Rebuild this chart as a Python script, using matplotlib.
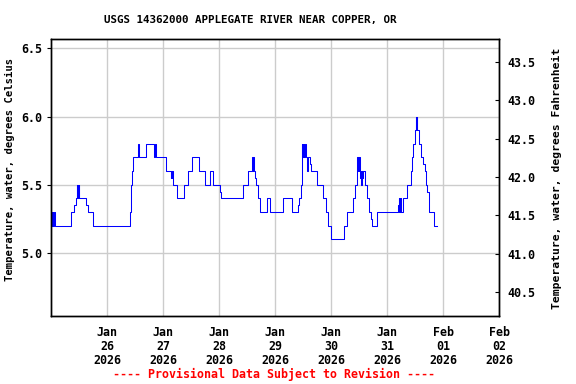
import numpy as np
import pandas as pd
import matplotlib
matplotlib.use('Agg')
import matplotlib.pyplot as plt
import matplotlib.dates as mdates

# heures depuis le 25 janv. 2026 00:00 et temperature (deg C), en escalier
hours = [0.0, 0.3, 0.5, 0.7, 0.9, 1.1, 1.9, 8.4, 10.0, 10.6, 11.1, 11.3, 11.5, 11.7, 11.9, 12.1,
         15.1, 15.7, 18.1, 34.0, 34.4, 34.7, 35.3, 37.3, 37.5, 40.9, 44.3, 44.45, 44.6, 44.75, 44.9,
         49.4, 51.4, 51.6, 51.8, 52.0, 52.3, 54.1, 57.1, 58.9, 60.3, 63.6, 66.1, 68.3, 69.5,
         72.6, 72.8, 82.4, 84.6, 86.3, 86.5, 86.7, 86.9, 87.3, 87.7, 88.6, 89.7, 92.7, 93.9,
         99.6, 103.4, 106.0, 106.4, 107.0, 107.4, 107.5, 107.7, 107.9, 108.1, 108.3, 108.5, 108.7,
         108.9, 109.1, 109.9, 110.1, 111.0, 111.6, 114.1, 116.7, 117.9, 118.9, 120.1, 125.6,
         127.0, 129.6, 130.4, 131.0, 131.3, 131.5, 131.7, 131.9, 132.1, 132.4, 132.6, 132.8,
         133.0, 133.2, 133.4, 133.6, 134.4, 135.5, 136.4, 137.3, 137.7, 139.9, 148.9, 149.1,
         149.3, 149.5, 149.7, 149.9, 150.1, 151.0, 152.7, 154.1, 154.7, 155.3, 155.9, 156.2,
         156.3, 156.4, 156.5, 156.6, 156.7, 156.8, 156.9, 157.0, 157.6, 158.4, 159.6, 160.1,
         160.7, 161.3, 161.9, 162.1, 164.1, 165.6]
temp_c = [5.2, 5.3, 5.2, 5.3, 5.2, 5.3, 5.2, 5.3, 5.35, 5.4, 5.5, 5.4, 5.5, 5.4, 5.5, 5.4,
          5.35, 5.3, 5.2, 5.3, 5.5, 5.6, 5.7, 5.8, 5.7, 5.8, 5.7, 5.8, 5.7, 5.8, 5.7,
          5.6, 5.55, 5.6, 5.55, 5.6, 5.5, 5.4, 5.5, 5.6, 5.7, 5.6, 5.5, 5.6, 5.5,
          5.45, 5.4, 5.5, 5.6, 5.7, 5.6, 5.7, 5.6, 5.55, 5.5, 5.4, 5.3, 5.4, 5.3,
          5.4, 5.3, 5.35, 5.4, 5.5, 5.7, 5.8, 5.7, 5.8, 5.7, 5.8, 5.7, 5.8,
          5.8, 5.7, 5.6, 5.7, 5.65, 5.6, 5.5, 5.4, 5.3, 5.2, 5.1, 5.2,
          5.3, 5.4, 5.5, 5.6, 5.7, 5.6, 5.7, 5.6, 5.7, 5.6, 5.55, 5.6,
          5.5, 5.6, 5.55, 5.6, 5.5, 5.4, 5.3, 5.25, 5.2, 5.3, 5.35, 5.4,
          5.3, 5.4, 5.3, 5.4, 5.3, 5.4, 5.5, 5.6, 5.7, 5.8, 5.85, 5.9,
          6.0, 5.9, 5.95, 5.9, 5.95, 5.9, 6.0, 5.9, 5.8, 5.7, 5.65, 5.6,
          5.5, 5.45, 5.4, 5.3, 5.2, 5.2]

day_ticks = ['2026-01-26', '2026-01-27', '2026-01-28', '2026-01-29',
             '2026-01-30', '2026-01-31', '2026-02-01', '2026-02-02']
c_ticks = [5.0, 5.5, 6.0, 6.5]
f_ticks = [40.5, 41.0, 41.5, 42.0, 42.5, 43.0, 43.5]

t0 = pd.Timestamp('2026-01-25')
times = t0 + pd.to_timedelta(hours, unit='h')

mono = 'DejaVu Sans Mono'
fig = plt.figure(figsize=(5.76, 3.84), dpi=100)
ax = fig.add_axes([51/576, 1-316/384, 448/576, 277/384])

ax.plot(times, temp_c, color='#0000ff', lw=0.75, drawstyle='steps-post')
ax.set_xlim(t0, pd.Timestamp('2026-02-02'))
ax.set_ylim(4.538, 6.568)

ax.set_xticks(pd.to_datetime(day_ticks))
ax.xaxis.set_major_formatter(mdates.DateFormatter('%b\n%d\n%Y'))
ax.set_yticks(c_ticks)
ax.set_yticklabels(['%.1f' % v for v in c_ticks])
ax.grid(True, color='#cccccc', lw=1.0)
ax.set_axisbelow(True)
ax.tick_params(axis='x', length=0, pad=7)
ax.tick_params(axis='y', length=3, direction='out', pad=3)
for lab in ax.get_xticklabels() + ax.get_yticklabels():
    lab.set_fontfamily(mono)
    lab.set_fontweight('bold')
    lab.set_fontsize(8.4)
    lab.set_linespacing(1.1)

ax2 = ax.twinx()
ax2.set_ylim(40.192, 43.795)
ax2.set_yticks(f_ticks)
ax2.set_yticklabels(['%.1f' % v for v in f_ticks])
ax2.tick_params(axis='y', length=3, direction='in', pad=6)
for lab in ax2.get_yticklabels():
    lab.set_fontfamily(mono)
    lab.set_fontweight('bold')
    lab.set_fontsize(8.4)

for a in (ax, ax2):
    for s in a.spines.values():
        s.set_linewidth(1.0)

fig.text(250/576, 1-20/384, 'USGS 14362000 APPLEGATE RIVER NEAR COPPER, OR',
         ha='center', va='center', family=mono, weight='bold', fontsize=7.8)
fig.text(10/576, 1-169/384, 'Temperature, water, degrees Celsius', rotation=90,
         ha='center', va='center', family=mono, weight='bold', fontsize=7.6)
fig.text(557/576, 1-178/384, 'Temperature, water, degrees Fahrenheit', rotation=90,
         ha='center', va='center', family=mono, weight='bold', fontsize=8.2)
fig.text(274/576, 1-374/384, '---- Provisional Data Subject to Revision ----',
         ha='center', va='center', family=mono, weight='bold', fontsize=8.4, color='red')

fig.savefig('out.png', dpi=100)
